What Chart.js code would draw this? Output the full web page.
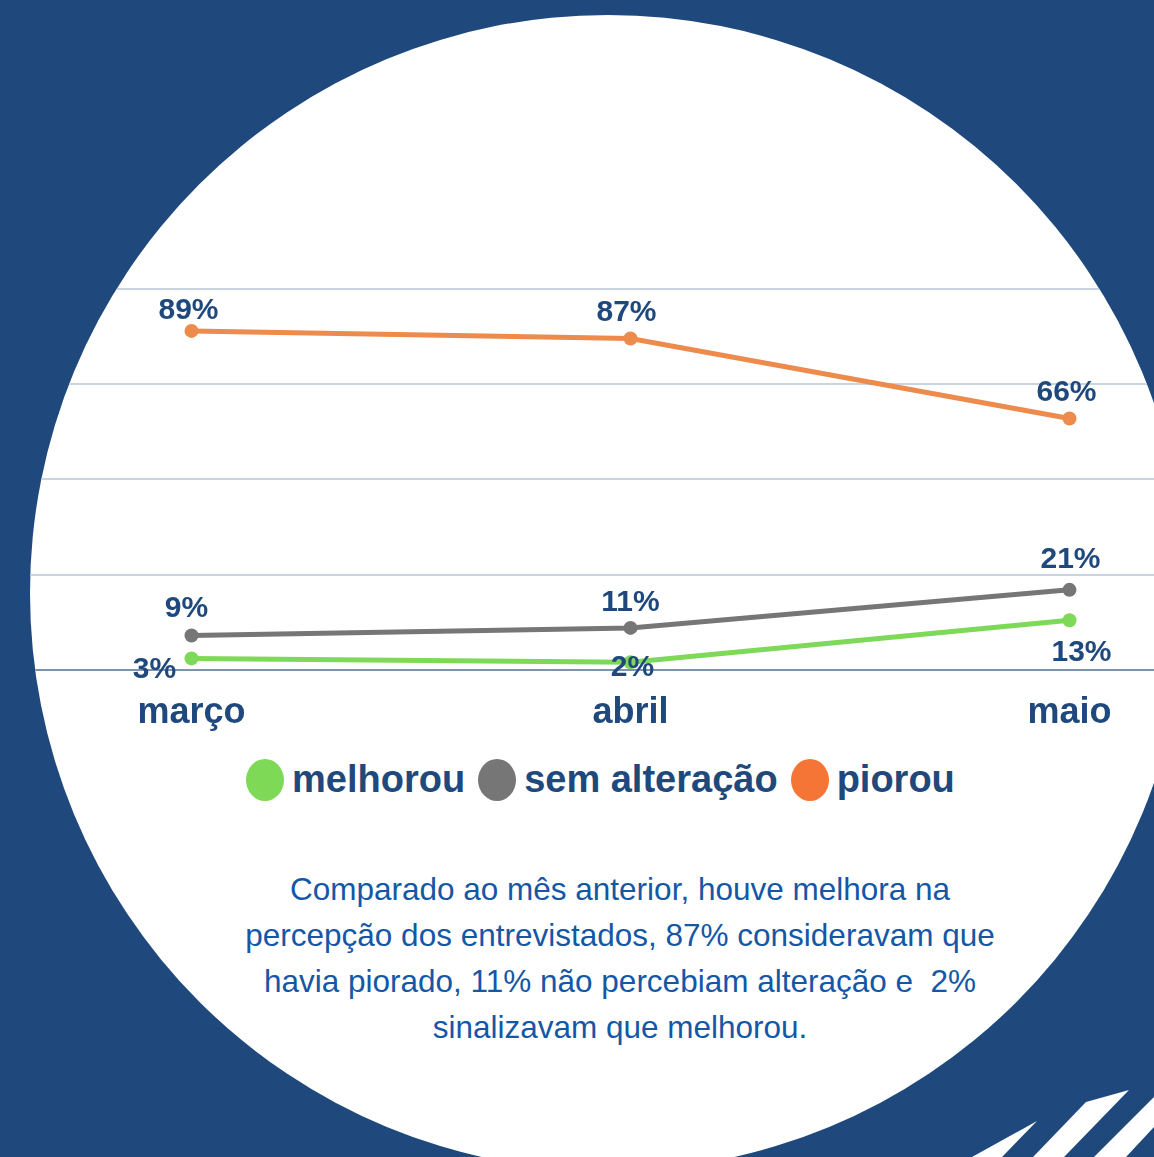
<!DOCTYPE html>
<html>
<head>
<meta charset="utf-8">
<script src="https://cdn.jsdelivr.net/npm/chart.js@4"></script>
<style>
  body { margin: 0; width: 1154px; height: 1157px; overflow: hidden; background: #1F497D; position: relative; font-family: 'Liberation Sans', Arial, sans-serif; }
  #circle { position: absolute; left: 30px; top: 15px; width: 1156px; height: 1156px; border-radius: 50%; background: #fff; overflow: hidden; }
  #chart-box { position: absolute; left: -65.5px; top: 235px; width: 1331px; height: 507px; }
  #legend { position: absolute; left: 246px; top: 758px; display: flex; align-items: center; font-weight: bold; font-size: 38px; color: #1F497D; }
  #legend .item { display: flex; align-items: center; margin-right: 13px; }
  #legend .dot { width: 38px; height: 42px; border-radius: 50%; margin-right: 8px; }
  #note { position: absolute; left: 220px; top: 866px; width: 800px; text-align: center; font-size: 31.5px; line-height: 46px; color: #1457A6; }
  #stripes { position: absolute; left: 0; top: 0; }
</style>
</head>
<body>
<div id="circle">
  <div id="chart-box"><canvas id="chart"></canvas></div>
</div>
<div id="legend"></div>
<div id="note">
  Comparado ao mês anterior, houve melhora na<br>
  percepção dos entrevistados, 87% consideravam que<br>
  havia piorado, 11% não percebiam alteração e &nbsp;2%<br>
  sinalizavam que melhorou.
</div>
<svg id="stripes" width="1154" height="1157">
  <polygon points="972,1157 1037,1121 1002,1157" fill="#fff"/>
  <polygon points="1033,1157 1086,1102 1129,1090 1064,1157" fill="#fff"/>
  <polygon points="1094,1157 1154,1097 1154,1127 1126,1157" fill="#fff"/>
</svg>
<script>
const months = ['março', 'abril', 'maio'];
const seriesNames = ['melhorou', 'sem alteração', 'piorou'];
const melhorou = [3, 2, 13];
const semAlteracao = [9, 11, 21];
const piorou = [89, 87, 66];

const lineColors = ['#7DD957', '#767676', '#EC8B4B'];
const legendColors = ['#7ED957', '#767676', '#F47536'];
const navy = '#1F497D';

// where each value label sits relative to its point (dx, dy)
const labelOffsets = [
    [[-37, 11], [2, 6], [12, 32]],
    [[-5, -27], [0, -25], [1, -30]],
    [[-3, -20], [-4, -26], [-3, -26]]
];

const valueLabels = {
    id: 'valueLabels',
    afterDatasetsDraw(chart) {
        const ctx = chart.ctx;
        ctx.save();
        ctx.font = 'bold 30px "Liberation Sans", Arial, sans-serif';
        ctx.fillStyle = navy;
        ctx.textAlign = 'center';
        ctx.textBaseline = 'middle';
        chart.data.datasets.forEach((ds, i) => {
            chart.getDatasetMeta(i).data.forEach((pt, j) => {
                const off = labelOffsets[i][j];
                ctx.fillText(ds.data[j] + '%', pt.x + off[0], pt.y + off[1]);
            });
        });
        ctx.restore();
    }
};

const allSeries = [melhorou, semAlteracao, piorou];

new Chart(document.getElementById('chart'), {
    type: 'line',
    data: {
        labels: months,
        datasets: allSeries.map((values, i) => ({
            label: seriesNames[i],
            data: values,
            borderColor: lineColors[i],
            backgroundColor: lineColors[i],
            pointBackgroundColor: lineColors[i],
            borderWidth: 5,
            pointRadius: 7,
            pointHoverRadius: 7,
            pointBorderWidth: 0,
            tension: 0
        }))
    },
    options: {
        responsive: true,
        maintainAspectRatio: false,
        animation: false,
        layout: { padding: { top: 39, left: 0, right: 0, bottom: 0 } },
        plugins: {
            legend: { display: false },
            tooltip: { enabled: false }
        },
        scales: {
            x: {
                offset: true,
                grid: { display: false, drawTicks: false },
                border: { display: false },
                ticks: {
                    padding: 22,
                    color: navy,
                    font: { family: '"Liberation Sans", Arial, sans-serif', size: 36, weight: 'bold' }
                }
            },
            y: {
                min: 0,
                max: 100,
                ticks: { display: false, stepSize: 25 },
                border: { display: false },
                grid: {
                    drawTicks: false,
                    lineWidth: 2,
                    color: c => c.tick && c.tick.value === 0 ? '#7D93B0' : '#C9D4E1'
                },
                afterFit: axis => { axis.width = 0; }
            }
        }
    },
    plugins: [valueLabels]
});

// legend built from the same series names
const legend = document.getElementById('legend');
seriesNames.forEach((name, i) => {
    const item = document.createElement('div');
    item.className = 'item';
    const dot = document.createElement('span');
    dot.className = 'dot';
    dot.style.background = legendColors[i];
    const txt = document.createElement('span');
    txt.textContent = name;
    item.appendChild(dot);
    item.appendChild(txt);
    legend.appendChild(item);
});
</script>
</body>
</html>
